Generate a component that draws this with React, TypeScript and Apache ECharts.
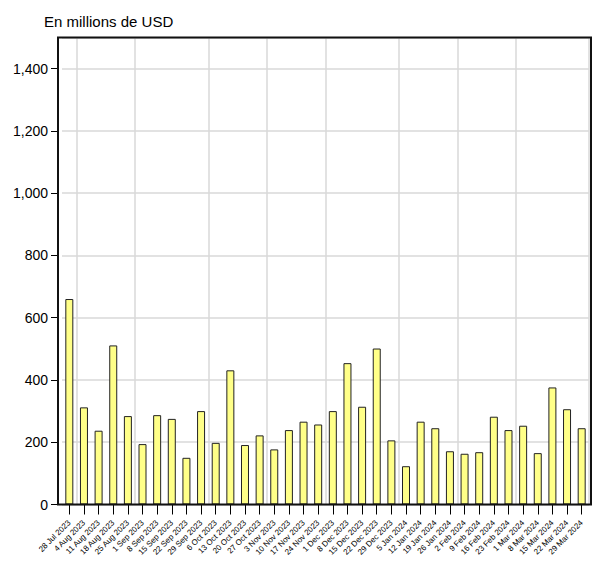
import React, { useEffect, useRef } from "react";
import * as echarts from "echarts";

const categories: string[] = [
  "28 Jul 2023", "4 Aug 2023", "11 Aug 2023", "18 Aug 2023", "25 Aug 2023",
  "1 Sep 2023", "8 Sep 2023", "15 Sep 2023", "22 Sep 2023", "29 Sep 2023",
  "6 Oct 2023", "13 Oct 2023", "20 Oct 2023", "27 Oct 2023",
  "3 Nov 2023", "10 Nov 2023", "17 Nov 2023", "24 Nov 2023",
  "1 Dec 2023", "8 Dec 2023", "15 Dec 2023", "22 Dec 2023", "29 Dec 2023",
  "5 Jan 2024", "12 Jan 2024", "19 Jan 2024", "26 Jan 2024",
  "2 Feb 2024", "9 Feb 2024", "16 Feb 2024", "23 Feb 2024",
  "1 Mar 2024", "8 Mar 2024", "15 Mar 2024", "22 Mar 2024", "29 Mar 2024",
];

const values: number[] = [
  660, 312, 237, 511, 284, 194, 287, 275, 150, 300,
  198, 431, 191, 222, 177, 239, 266, 257,
  300, 454, 314, 501, 206, 123, 266, 245, 171,
  163, 168, 282, 239, 253, 165, 376, 306, 245,
];

const yTicks: number[] = [0, 200, 400, 600, 800, 1000, 1200, 1400];
const yMax = 1500;
const titleText = "En millions de USD";

const FONT = "'Liberation Sans', Arial, sans-serif";

export default function App() {
  const ref = useRef<HTMLDivElement>(null);
  useEffect(() => {
    if (!ref.current) return;
    const chart = echarts.init(ref.current, undefined, { renderer: "svg" });
    const monthOf = (s: string) => s.split(" ")[1];
    chart.setOption({
      animation: false,
      backgroundColor: "#ffffff",
      grid: { left: 62, right: 8, top: 37.5, bottom: 57.5, containLabel: false },
      title: {
        text: titleText,
        left: 39,
        top: 9,
        textStyle: { fontFamily: FONT, fontSize: 15, fontWeight: "normal", color: "#000" },
      },
      xAxis: {
        type: "category",
        data: categories,
        boundaryGap: true,
        axisLine: { show: false },
        axisTick: { show: true, alignWithLabel: true, length: 10, lineStyle: { color: "#000", width: 1 } },
        axisLabel: {
          rotate: 45,
          interval: 0,
          fontFamily: FONT,
          fontSize: 8,
          color: "#000",
          margin: 17,
        },
        splitLine: {
          show: true,
          interval: (index: number) =>
            index > 0 && index < categories.length && monthOf(categories[index]) !== monthOf(categories[index - 1]),
          lineStyle: { color: "#d9d9d9", width: 1.5 },
        },
      },
      yAxis: {
        type: "value",
        min: 0,
        max: yMax,
        interval: 200,
        offset: 4,
        axisLine: { show: false },
        axisTick: { show: true, length: 7, lineStyle: { color: "#000", width: 1 } },
        axisLabel: {
          fontFamily: FONT,
          fontSize: 14,
          color: "#000",
          margin: 10,
          showMaxLabel: false,
          formatter: (v: number) => (yTicks.includes(v) ? v.toLocaleString("en-US") : ""),
        },
        splitLine: { show: true, lineStyle: { color: "#d9d9d9", width: 1.5 } },
      },
      series: [
        {
          type: "bar",
          data: values,
          barWidth: 8,
          itemStyle: { color: "#ffff88", borderColor: "#222", borderWidth: 1 },
        },
      ],
      graphic: [
        {
          type: "rect",
          z: 100,
          shape: { x: 58, y: 37.5, width: 533, height: 467 },
          style: { fill: "none", stroke: "#111", lineWidth: 2 },
        },
      ],
    });
    return () => chart.dispose();
  }, []);
  return (
    <div
      ref={ref}
      style={{ position: "absolute", left: 0, top: 0, width: 597, height: 562 }}
    />
  );
}
